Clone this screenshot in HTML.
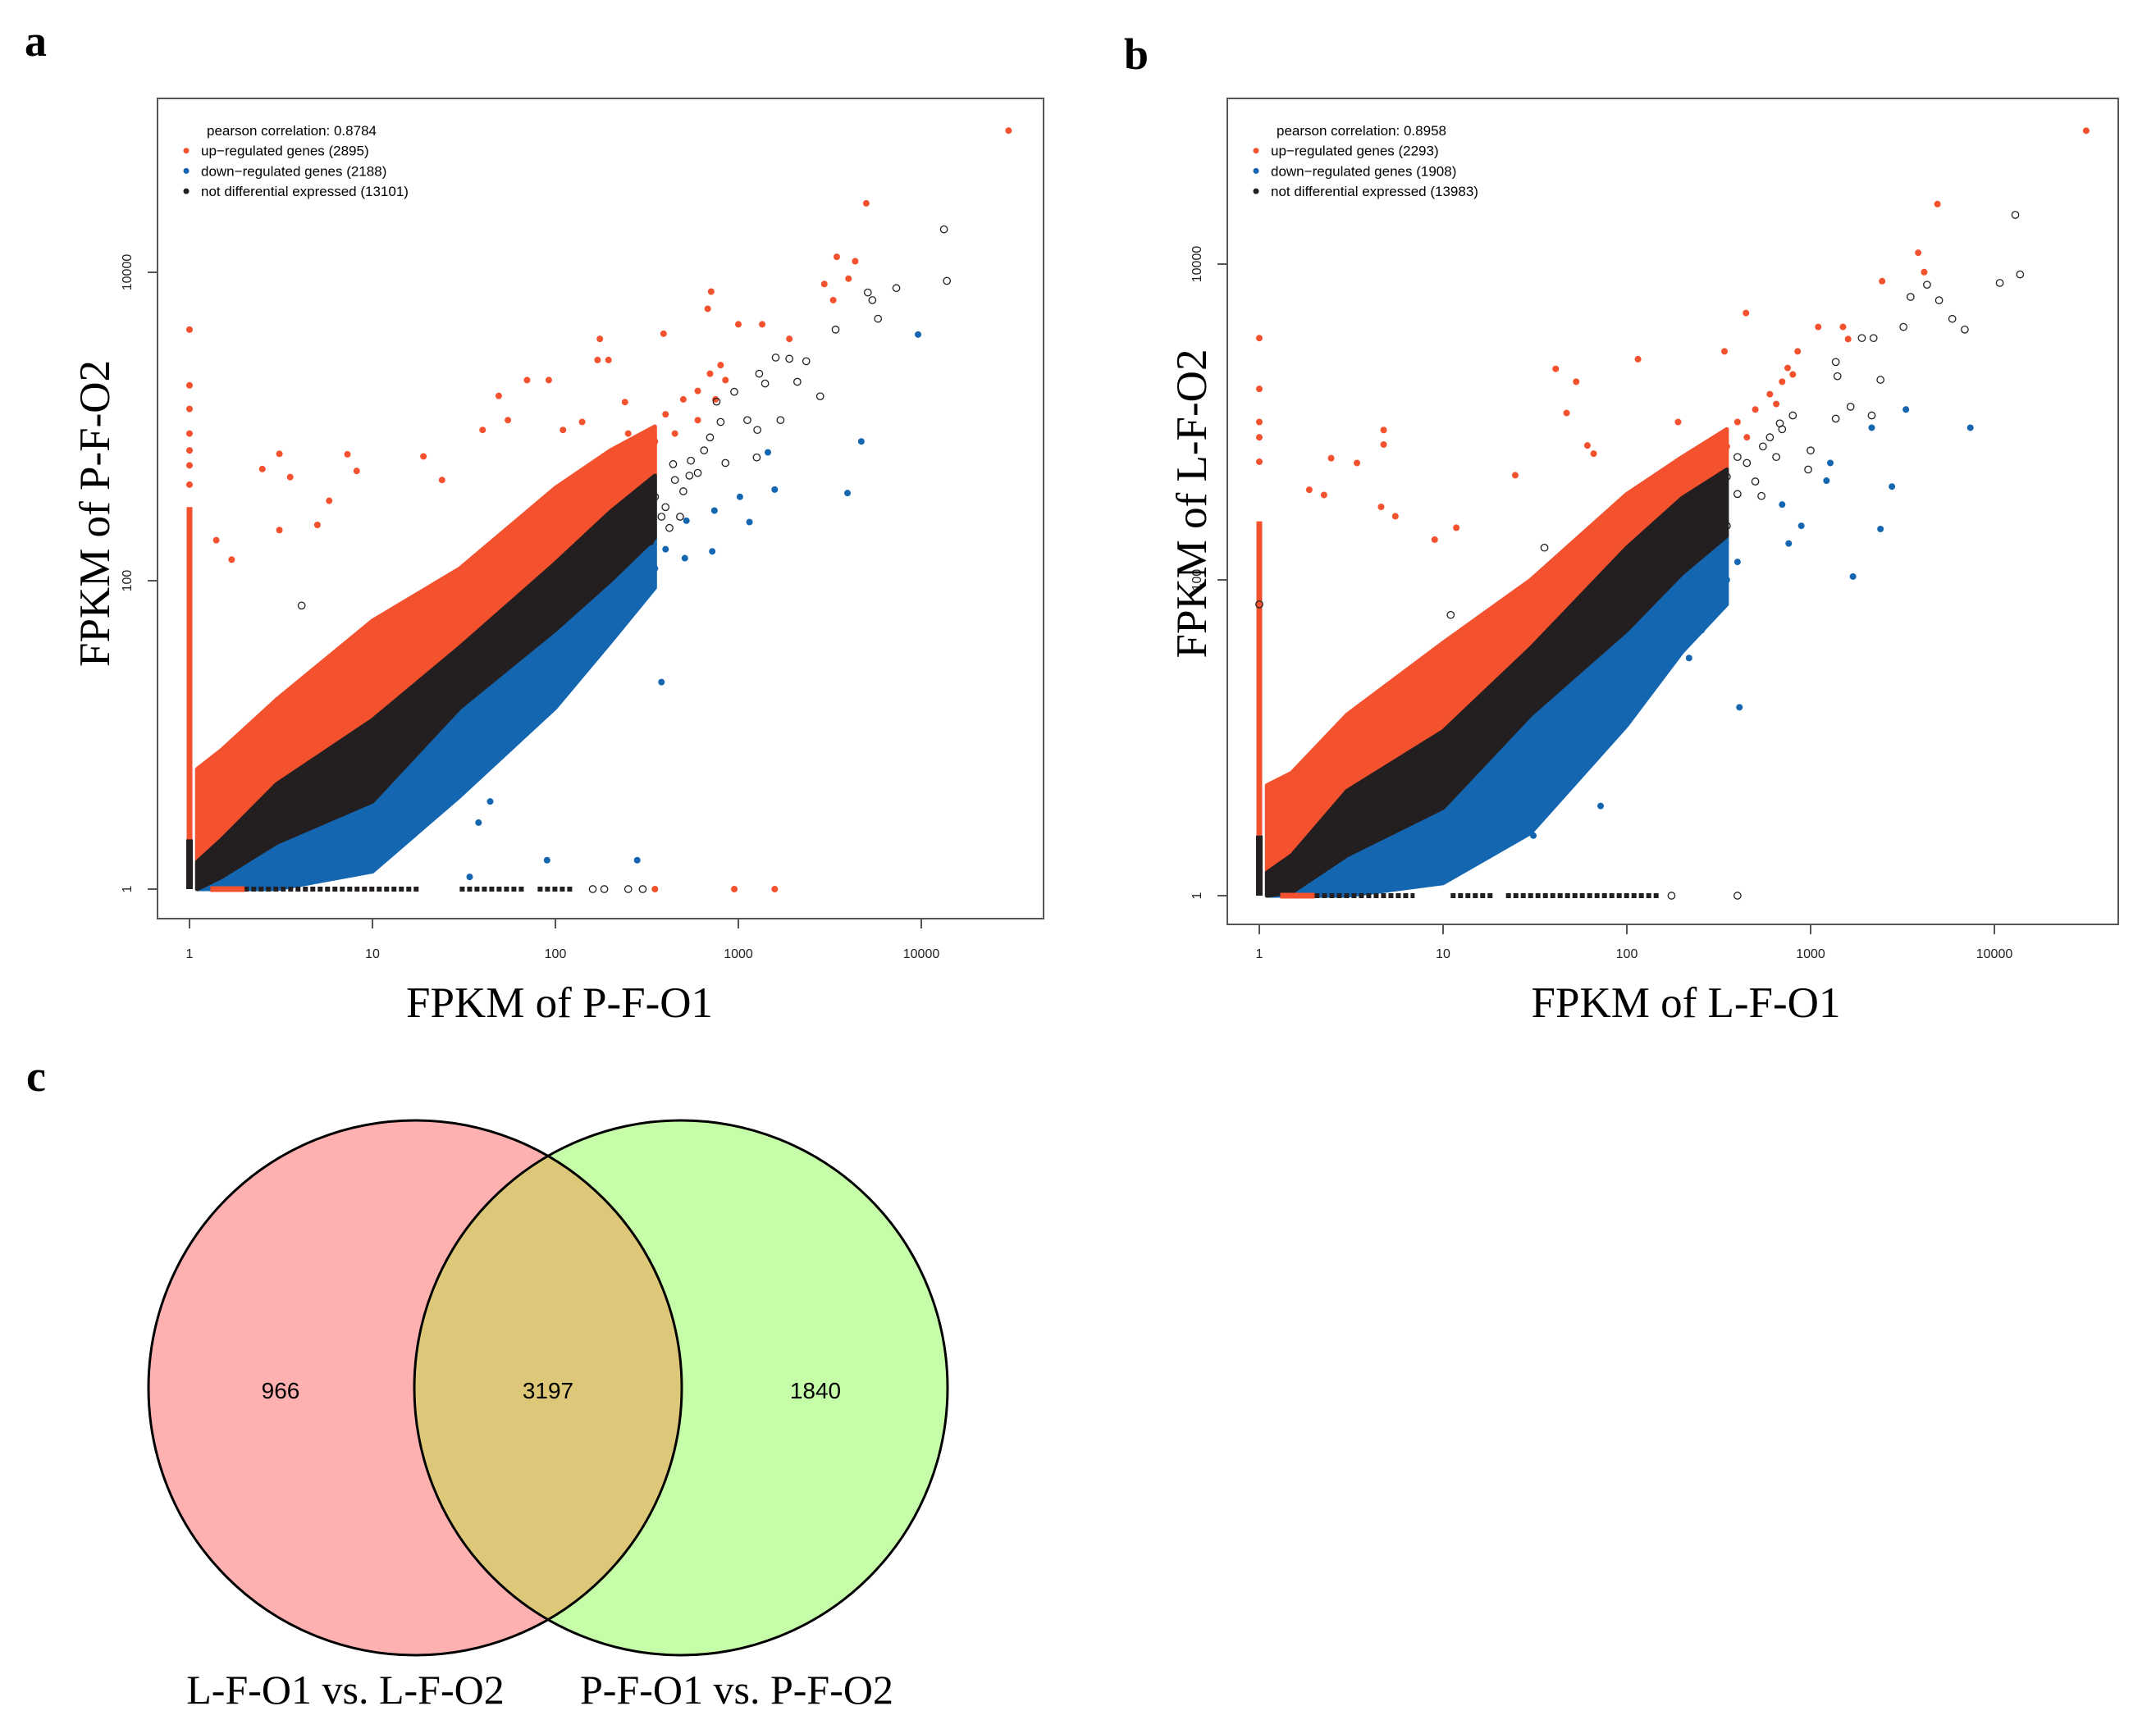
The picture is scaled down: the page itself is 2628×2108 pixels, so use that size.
<!DOCTYPE html>
<html><head><meta charset="utf-8">
<style>
html,body{margin:0;padding:0;background:#fff;}
svg{display:block;}
.ser{font-family:"Liberation Serif",serif;}
.san{font-family:"Liberation Sans",sans-serif;}
</style></head>
<body>
<svg id="fig" width="2628" height="2108" viewBox="0 0 2628 2108" xmlns="http://www.w3.org/2000/svg">
<defs>
<clipPath id="clipA"><rect x="192" y="120" width="1080" height="1000"/></clipPath>
<clipPath id="clipB"><rect x="1496" y="120" width="1086" height="1007"/></clipPath>
<clipPath id="clipLeft"><ellipse cx="506" cy="1692" rx="325" ry="326"/></clipPath>
</defs>
<text x="30" y="68" class="ser" font-size="54" font-weight="bold">a</text>
<text x="1370" y="84" class="ser" font-size="54" font-weight="bold">b</text>
<text x="32" y="1330" class="ser" font-size="54" font-weight="bold">c</text>
<g id="panelA"></g>
<g id="panelB"></g>
<g id="venn">
<ellipse cx="506" cy="1692" rx="325" ry="326" fill="#ffb1b1"/>
<ellipse cx="830" cy="1692" rx="325" ry="326" fill="#c6fda9"/>
<ellipse cx="830" cy="1692" rx="325" ry="326" fill="#dcc878" clip-path="url(#clipLeft)"/>
<ellipse cx="506" cy="1692" rx="325" ry="326" fill="none" stroke="#000" stroke-width="3"/>
<ellipse cx="830" cy="1692" rx="325" ry="326" fill="none" stroke="#000" stroke-width="3"/>
<text x="342" y="1705" text-anchor="middle" class="san" font-size="28">966</text>
<text x="668" y="1705" text-anchor="middle" class="san" font-size="28">3197</text>
<text x="994" y="1705" text-anchor="middle" class="san" font-size="28">1840</text>
<text x="421" y="2077" text-anchor="middle" class="ser" font-size="50">L-F-O1 vs. L-F-O2</text>
<text x="898" y="2077" text-anchor="middle" class="ser" font-size="50">P-F-O1 vs. P-F-O2</text>
</g>
</svg>
<script>
// ===== Panel a data =====
const aBandX   = [1.1,1.5,3,10,30,100,200,350];
const aRedTop  = [6,8,17,55,120,400,700,1000];
const aBlackTop= [1.5,2.1,4.8,12.5,37,130,280,480];
const aBlackBot= [1,1.2,2.0,3.7,15,48,100,190];
const aBlueBot = [1,1,1,1.3,4,15,40,90];
const aRedPts = [[30000,83000],[5000,28000],[3450,12600],[4350,11800],[4000,9100],[2950,8400],[3300,6600],[710,7500],[680,5800],[1000,4600],[1350,4600],[390,4000],[175,3700],[195,2700],[170,2700],[1900,3700],[70,2000],[92,2000],[49,1580],[1,4250],[3.1,665],[2.5,530],[7.3,660],[3.55,470],[19,640],[8.2,515],[1.4,183],[1.7,137],[3.1,213],[5,230],[5.8,330],[24,450],[40,950],[55,1100],[110,950],[140,1070],[240,1440],[350,1],[950,1],[1580,1],[1,1850],[1,1300],[1,900],[1,700],[1,560],[1,420],[400,1200],[500,1500],[600,1700],[700,2200],[800,2500],[450,900],[350,800],[600,1100],[750,1500],[850,2000],[300,700],[250,900]];
const aBluePts = [[9600,3950],[4700,800],[3950,370],[1450,680],[1580,390],[1020,350],[1150,240],[740,285],[720,155],[520,245],[380,22],[280,1.54],[90,1.54],[34,1.2],[44,3.7],[38,2.7],[510,140],[240,60],[400,160],[350,120],[300,90]];
const aOpenPts = [[13300,19000],[13800,8800],[5100,7400],[5400,6600],[5800,5000],[7300,7900],[3400,4250],[1600,2800],[1900,2750],[2350,2650],[2100,1950],[2800,1570],[1300,2200],[1400,1900],[1700,1100],[1270,950],[950,1680],[800,1070],[700,850],[440,570],[540,480],[320,380],[380,260],[850,580],[1260,630],[1120,1100],[760,1450],[4.1,69],[160,1],[185,1],[250,1],[300,1],[350,350],[400,300],[450,450],[500,380],[550,600],[600,500],[650,700],[300,250],[280,330],[420,220],[480,260],[330,180]];
const aBottomRuns = [[1.5,18],[30,68],[80,125]];
const aRedVert = [1,300];
const aBlackVert = [1,2.1];
// ===== Panel b data =====
const bBandX   = [1.1,1.5,3,10,30,100,200,350];
const bRedTop  = [5,6,14,40,100,350,600,900];
const bBlackTop= [1.4,1.8,4.6,11,37,160,330,500];
const bBlackBot= [1,1.05,1.8,3.6,14,48,110,190];
const bBlueBot = [1,1,1,1.2,2.5,12,35,70];
const bRedPts = [[31600,70000],[4900,24000],[3850,11800],[4150,8900],[2450,7800],[445,4900],[1100,4000],[1500,4000],[1600,3350],[115,2500],[41,2170],[53,1800],[340,2800],[850,2800],[750,2200],[1,3400],[1,1620],[4.75,890],[4.75,720],[2.46,590],[3.4,550],[1.87,372],[2.25,345],[47,1140],[61,710],[66,630],[24.7,460],[11.8,214],[9,180],[4.6,290],[5.5,253],[190,1000],[1,1000],[1,800],[1,560],[400,1000],[500,1200],[600,1500],[700,1800],[800,2000],[350,700],[450,800],[650,1300]];
const bBluePts = [[3300,1200],[7400,920],[2150,920],[1280,550],[1220,425],[2770,390],[2400,210],[890,220],[760,170],[1700,105],[410,15.6],[72,3.7],[31,2.4],[218,32],[255,48],[700,300],[400,130],[350,100]];
const bOpenPts = [[13000,20500],[13800,8600],[10700,7600],[3500,6200],[5000,5900],[5900,4500],[6900,3850],[3200,4000],[4300,7400],[1900,3400],[2200,3400],[1370,2400],[1400,1950],[2400,1850],[2150,1100],[1370,1050],[1650,1250],[970,500],[1000,660],[680,980],[600,800],[540,340],[400,600],[350,220],[35.6,160],[11,60],[1,70],[175,1],[400,1],[350,450],[400,350],[450,550],[500,420],[550,700],[650,600],[700,900],[800,1100],[300,300],[330,250]];
const bBottomRuns = [[2,7],[11,19],[22,150]];
const bRedVert = [1,235];
const bBlackVert = [1,2.4];

const NS = "http://www.w3.org/2000/svg";
const RED="#f4512f", BLUE="#1566b0", BLK="#231f20";
function mk(tag, attrs, parent){const e=document.createElementNS(NS,tag);for(const k in attrs)e.setAttribute(k,attrs[k]);parent.appendChild(e);return e;}

function drawPanel(g, cfg){
  const xs = v => cfg.x0 + cfg.dx*Math.log10(v);
  const ys = v => cfg.y0 - cfg.dy*Math.log10(v);
  const box = mk("rect",{x:cfg.bx,y:cfg.by,width:cfg.bw,height:cfg.bh,fill:"#fff",stroke:"#555","stroke-width":2},g);
  
  
  const d = mk("g",{"clip-path":"url(#"+cfg.clip+")"},g);
  
  
  function band(top, bot, color, name){
    let pts=[];
    for(let i=0;i<cfg.bandX.length;i++) pts.push(xs(cfg.bandX[i])+","+ys(top[i]));
    for(let i=cfg.bandX.length-1;i>=0;i--) pts.push(xs(cfg.bandX[i])+","+ys(bot[i]));
    const p=mk("polygon",{points:pts.join(" "),fill:color,stroke:color,"stroke-width":5,"stroke-linejoin":"round"},d);
    
    
  }
  band(cfg.redTop, cfg.blackTop, RED, 'up-regulated-band');
  band(cfg.blackBot, cfg.blueBot, BLUE, 'down-regulated-band');
  band(cfg.blackTop, cfg.blackBot, BLK, 'not-differential-band');
  const rv=mk("line",{x1:xs(cfg.redVert[0]),x2:xs(cfg.redVert[0]),y1:ys(1),y2:ys(cfg.redVert[1]),stroke:RED,"stroke-width":7},d);
  
  
  const bv=mk("line",{x1:xs(cfg.blackVert[0]),x2:xs(cfg.blackVert[0]),y1:ys(1),y2:ys(cfg.blackVert[1]),stroke:BLK,"stroke-width":8},d);
  
  
  cfg.bottomRuns.forEach(r=>{
    const l=mk("line",{x1:xs(r[0]),x2:xs(r[1]),y1:ys(1),y2:ys(1),stroke:BLK,"stroke-width":6,"stroke-dasharray":"6,3"},d);
    
    
  });
  const rb=mk("line",{x1:xs(1.3),x2:xs(2),y1:ys(1),y2:ys(1),stroke:RED,"stroke-width":7},d);
  
  
  cfg.redPts.forEach(p=>{const c=mk("circle",{cx:xs(p[0]),cy:ys(p[1]),r:4,fill:RED},d);
    
    });
  cfg.bluePts.forEach(p=>{const c=mk("circle",{cx:xs(p[0]),cy:ys(p[1]),r:4,fill:BLUE},d);
    
    });
  cfg.openPts.forEach(p=>{const c=mk("circle",{cx:xs(p[0]),cy:ys(p[1]),r:4.2,fill:"none",stroke:BLK,"stroke-width":1.3},d);
    
    });
  [1,10,100,1000,10000].forEach(v=>{
    mk("line",{x1:xs(v),x2:xs(v),y1:cfg.by+cfg.bh,y2:cfg.by+cfg.bh+12,stroke:"#555","stroke-width":2},g);
    const t=mk("text",{x:xs(v),y:1168,"text-anchor":"middle","font-size":16,"class":"san",fill:"#222"},g);
    t.textContent=String(v);
    
    
  });
  [1,100,10000].forEach(v=>{
    mk("line",{x1:cfg.bx,x2:cfg.bx-12,y1:ys(v),y2:ys(v),stroke:"#555","stroke-width":2},g);
    const t=mk("text",{x:cfg.bx-32,y:ys(v),"text-anchor":"middle","font-size":16,"class":"san",fill:"#222",transform:"rotate(-90 "+(cfg.bx-32)+" "+ys(v)+")"},g);
    t.textContent=String(v);
    
    
  });
  const xt=mk("text",{x:cfg.xtx,y:1240,"text-anchor":"middle","font-size":53,"class":"ser"},g);
  xt.textContent=cfg.xtitle;
  
  
  const yt=mk("text",{x:cfg.ytx,y:cfg.yty,"text-anchor":"middle","font-size":53,"class":"ser",transform:"rotate(-90 "+cfg.ytx+" "+cfg.yty+")"},g);
  yt.textContent=cfg.ytitle;
  
  
  const lg=mk("g",{},g);
  
  
  const lx=cfg.bx+53, ly=165;
  const t0=mk("text",{x:lx+7,y:ly,"font-size":17,"class":"san"},lg); t0.textContent=cfg.legend[0];
  
  
  [[RED,1],[BLUE,2],[BLK,3]].forEach(([col,i])=>{
    mk("circle",{cx:lx-18,cy:ly+i*24.7-6,r:3.5,fill:col},lg);
    const t=mk("text",{x:lx,y:ly+i*24.7,"font-size":17,"class":"san"},lg);
    t.textContent=cfg.legend[i];
    
    
  });
}

drawPanel(document.getElementById('panelA'),{
  x0:231,dx:223,y0:1084,dy:188,bx:192,by:120,bw:1080,bh:1000,clip:"clipA",
  bandX:aBandX,redTop:aRedTop,blackTop:aBlackTop,blackBot:aBlackBot,blueBot:aBlueBot,
  redPts:aRedPts,bluePts:aBluePts,openPts:aOpenPts,bottomRuns:aBottomRuns,redVert:aRedVert,blackVert:aBlackVert,
  xtitle:"FPKM of P-F-O1",xtx:682,ytitle:"FPKM of P-F-O2",ytx:133,yty:626,
  legend:["pearson correlation: 0.8784","up\u2212regulated genes (2895)","down\u2212regulated genes (2188)","not differential expressed (13101)"]
});
drawPanel(document.getElementById('panelB'),{
  x0:1535,dx:224,y0:1092,dy:192.5,bx:1496,by:120,bw:1086,bh:1007,clip:"clipB",
  bandX:bBandX,redTop:bRedTop,blackTop:bBlackTop,blackBot:bBlackBot,blueBot:bBlueBot,
  redPts:bRedPts,bluePts:bBluePts,openPts:bOpenPts,bottomRuns:bBottomRuns,redVert:bRedVert,blackVert:bBlackVert,
  xtitle:"FPKM of L-F-O1",xtx:2055,ytitle:"FPKM of L-F-O2",ytx:1470,yty:614,
  legend:["pearson correlation: 0.8958","up\u2212regulated genes (2293)","down\u2212regulated genes (1908)","not differential expressed (13983)"]
});
</script>
</body></html>
